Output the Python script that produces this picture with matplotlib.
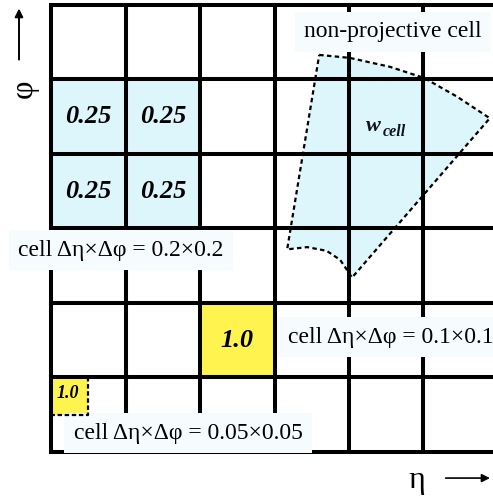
import matplotlib.pyplot as plt
from matplotlib.patches import Rectangle, Polygon

plt.rcParams['font.family'] = ['Liberation Serif', 'DejaVu Serif']

# grid of 6x6 cells (0.1 x 0.1 each)
n_cols = 6
n_rows = 6

# cells with weight 0.25 (col, row counted from bottom)
quarter_cells = [(0, 3), (1, 3), (0, 4), (1, 4)]
quarter_labels = ["0.25", "0.25", "0.25", "0.25"]

# the fully contained cell
full_cell = (2, 1)
full_label = "1.0"

# the small 0.05x0.05 cell (x, y, size)
small_cell = (0.0, 0.5, 0.5)
small_label = "1.0"

# outline of the non-projective cell, in grid units
np_x = [3.60, 4.01, 4.55, 5.01, 5.45, 5.89, 4.04, 3.99, 3.88, 3.70, 3.44, 3.17]
np_y = [5.33, 5.29, 5.17, 5.02, 4.77, 4.48, 2.34, 2.42, 2.58, 2.70, 2.75, 2.72]

labels = ["non-projective cell",
          "cell Δη×Δφ = 0.2×0.2",
          "cell Δη×Δφ = 0.1×0.1",
          "cell Δη×Δφ = 0.05×0.05"]

blue = '#dcf6fb'
yellow = '#fff350'
boxc = '#f6fbfd'

fig = plt.figure(figsize=(4.93, 4.97), dpi=100)
ax = fig.add_axes([0, 0, 1, 1])
ax.set_xlim(-0.685, 5.933)
ax.set_ylim(-0.604, 6.067)
ax.axis('off')

for (c, r), t in zip(quarter_cells, quarter_labels):
    ax.add_patch(Rectangle((c, r), 1, 1, facecolor=blue, edgecolor='none', zorder=1))
    ax.text(c + 0.5, r + 0.5, t, ha='center', va='center', fontsize=19,
            fontweight='bold', fontstyle='italic', zorder=5)

ax.add_patch(Rectangle(full_cell, 1, 1, facecolor=yellow, edgecolor='none', zorder=1))
ax.text(full_cell[0] + 0.5, full_cell[1] + 0.5, full_label, ha='center', va='center',
        fontsize=19, fontweight='bold', fontstyle='italic', zorder=5)

sx, sy, ss = small_cell
ax.add_patch(Rectangle((sx, sy), ss, ss, facecolor=yellow, edgecolor='none', zorder=1))
ax.plot([sx + ss, sx + ss, sx], [sy + ss, sy, sy], color='black', lw=1.6,
        ls=(0, (2, 1.2)), zorder=4)
ax.text(sx + ss / 2 - 0.02, sy + ss / 2 + 0.04, small_label, ha='center', va='center',
        fontsize=13, fontweight='bold', fontstyle='italic', zorder=5)

# non-projective cell
ax.add_patch(Polygon(list(zip(np_x, np_y)), closed=True, facecolor=blue,
                     edgecolor='none', zorder=1))
ax.add_patch(Polygon(list(zip(np_x, np_y)), closed=True, fill=False,
                     edgecolor='black', lw=1.6, ls=(0, (2, 1.5)), zorder=4))
ax.text(4.33, 4.37, "w", ha='center', va='center', fontsize=16,
        fontweight='bold', fontstyle='italic', color='#111122', zorder=5)
ax.text(4.45, 4.30, "cell", ha='left', va='center', fontsize=11.5,
        fontweight='bold', fontstyle='italic', color='#111122', zorder=5)

# grid
for i in range(n_cols + 1):
    ax.plot([i, i], [0, n_rows], color='black', lw=2.9, zorder=2,
            solid_capstyle='projecting')
for j in range(n_rows + 1):
    ax.plot([0, n_cols], [j, j], color='black', lw=2.9, zorder=2,
            solid_capstyle='projecting')

bb = dict(boxstyle='square,pad=0.4', facecolor=boxc, edgecolor='none')
ax.text(4.59, 5.64, labels[0], ha='center', va='center', fontsize=17, bbox=bb, zorder=3)
ax.text(0.94, 2.71, labels[1], ha='center', va='center', fontsize=17, bbox=bb, zorder=3)
ax.text(3.18, 1.54, labels[2], ha='left', va='center', fontsize=17, bbox=bb, zorder=3)
ax.text(1.84, 0.25, labels[3], ha='center', va='center', fontsize=17, bbox=bb, zorder=3)

# axis directions
ax.annotate('', xy=(-0.43, 5.99), xytext=(-0.43, 5.23), annotation_clip=False,
            arrowprops=dict(arrowstyle='-|>', color='black', lw=1.4, mutation_scale=12))
ax.text(-0.36, 4.88, "φ", rotation=90, ha='center', va='center', fontsize=23)
ax.text(4.91, -0.38, "η", ha='center', va='center', fontsize=23)
ax.annotate('', xy=(5.93, -0.35), xytext=(5.26, -0.35), annotation_clip=False,
            arrowprops=dict(arrowstyle='-|>', color='black', lw=1.2, mutation_scale=12))

fig.savefig('out.png', dpi=100)
